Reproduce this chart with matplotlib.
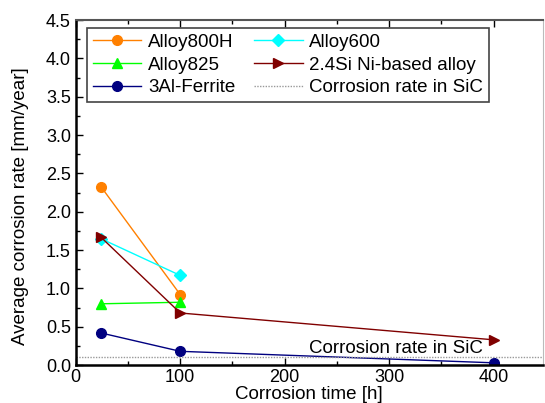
import numpy as np
import matplotlib.pyplot as plt
from matplotlib.ticker import MultipleLocator

plt.rcParams['font.family'] = ['Liberation Sans', 'DejaVu Sans']

# Exposure times [h] and average corrosion rates [mm/year]
t_short = [24, 100]
t_long = [24, 100, 400]
alloy800h = [2.33, 0.92]
alloy600 = [1.65, 1.17]
alloy825 = [0.80, 0.82]
si_ni_alloy = [1.67, 0.68, 0.33]
al_ferrite = [0.42, 0.18, 0.03]
sic_rate = 0.1

fig = plt.figure(figsize=(5.45, 4.03), dpi=100)
ax = fig.add_axes([0.139, 0.094, 0.857, 0.856])

h1, = ax.plot(t_short, alloy800h, '-o', color='#FF8000', lw=1, ms=7, label='Alloy800H')
h2, = ax.plot(t_short, alloy600, '-D', color='#00FFFF', lw=1, ms=6.5, label='Alloy600')
h3, = ax.plot(t_short, alloy825, '-^', color='#00FF00', lw=1, ms=7.5, label='Alloy825')
h4, = ax.plot(t_long, si_ni_alloy, '->', color='#800000', lw=1, ms=7, label='2.4Si Ni-based alloy')
h5, = ax.plot(t_long, al_ferrite, '-o', color='#000080', lw=1, ms=7, label='3Al-Ferrite')
h6 = ax.axhline(sic_rate, color='#999999', lw=1, ls=(0, (1, 1)), label='Corrosion rate in SiC')
ax.text(390, sic_rate + 0.005, 'Corrosion rate in SiC', ha='right', va='bottom', fontsize=13.5)

ax.set_xlim(0, 447)
ax.set_ylim(0, 4.5)
ax.xaxis.set_major_locator(MultipleLocator(100))
ax.xaxis.set_minor_locator(MultipleLocator(50))
ax.yaxis.set_major_locator(MultipleLocator(0.5))
ax.yaxis.set_minor_locator(MultipleLocator(0.25))
ax.yaxis.set_major_formatter(plt.FormatStrFormatter('%.1f'))
ax.tick_params(which='both', direction='in', top=True, right=False, labelsize=13)
ax.tick_params(which='major', length=5, width=1)
ax.tick_params(which='minor', length=3, width=1)
ax.tick_params(axis='x', pad=3)

for side in ['left', 'bottom']:
    ax.spines[side].set_linewidth(1.8)
    ax.spines[side].set_color('black')
ax.spines['top'].set_linewidth(1.5)
ax.spines['top'].set_color('#555555')
ax.spines['right'].set_linewidth(0.8)
ax.spines['right'].set_color('#bbbbbb')

ax.set_xlabel('Corrosion time [h]', fontsize=13.5, labelpad=0)
ax.set_ylabel('Average corrosion rate [mm/year]', fontsize=13.5)
ax.yaxis.set_label_coords(-0.10, 0.46)

# row-wise order in a two-column legend
leg = ax.legend([h1, h3, h5, h2, h4, h6],
                [h.get_label() for h in (h1, h3, h5, h2, h4, h6)],
                ncol=2, loc='upper left', bbox_to_anchor=(0.024, 0.977), fontsize=13.5,
                fancybox=False, edgecolor='#444444', framealpha=1, handlelength=2.6,
                columnspacing=1.0, borderpad=0.3, borderaxespad=0, labelspacing=0.3,
                handletextpad=0.35)
leg.get_frame().set_linewidth(1.2)

fig.savefig('out.png', dpi=100)
